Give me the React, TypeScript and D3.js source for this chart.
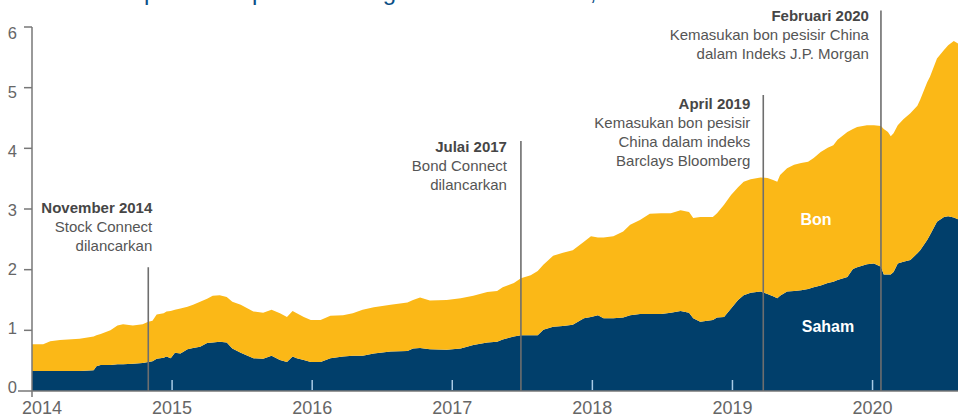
import React from "react";
import * as d3 from "d3";

// Decimal-year dates of the observations
const dates = [
  2014.00, 2014.08, 2014.13, 2014.20, 2014.34, 2014.44, 2014.46, 2014.49, 2014.56, 2014.61,
  2014.65, 2014.72, 2014.79, 2014.83, 2014.86, 2014.89, 2014.94, 2014.96, 2014.99, 2015.02,
  2015.06, 2015.11, 2015.15, 2015.20, 2015.25, 2015.29, 2015.34, 2015.39, 2015.43, 2015.49,
  2015.58, 2015.65, 2015.71, 2015.77, 2015.82, 2015.86, 2015.89, 2015.94, 2015.99, 2016.06,
  2016.13, 2016.22, 2016.29, 2016.36, 2016.44, 2016.56, 2016.68, 2016.72, 2016.77, 2016.84,
  2016.96, 2017.06, 2017.15, 2017.25, 2017.32, 2017.36, 2017.44, 2017.49, 2017.56, 2017.61,
  2017.65, 2017.72, 2017.79, 2017.86, 2017.94, 2017.99, 2018.04, 2018.08, 2018.15, 2018.22,
  2018.27, 2018.34, 2018.41, 2018.49, 2018.56, 2018.63, 2018.69, 2018.72, 2018.77, 2018.86,
  2018.89, 2018.94, 2018.99, 2019.04, 2019.08, 2019.13, 2019.20, 2019.25, 2019.29, 2019.32,
  2019.34, 2019.39, 2019.44, 2019.49, 2019.54, 2019.58, 2019.63, 2019.68, 2019.72, 2019.75,
  2019.82, 2019.86, 2019.89, 2019.96, 2020.01, 2020.06, 2020.08, 2020.11, 2020.13, 2020.15,
  2020.18, 2020.22, 2020.27, 2020.32, 2020.34, 2020.39, 2020.41, 2020.46, 2020.51, 2020.54,
  2020.58, 2020.61,
];

// Saham (equities)
const saham = [
  0.33, 0.33, 0.33, 0.33, 0.33, 0.34, 0.41, 0.43, 0.43, 0.44,
  0.44, 0.45, 0.46, 0.48, 0.49, 0.53, 0.55, 0.57, 0.54, 0.63,
  0.62, 0.69, 0.71, 0.73, 0.79, 0.80, 0.81, 0.80, 0.70, 0.63,
  0.54, 0.53, 0.58, 0.51, 0.48, 0.57, 0.54, 0.51, 0.48, 0.48,
  0.54, 0.57, 0.58, 0.58, 0.62, 0.65, 0.66, 0.70, 0.71, 0.69,
  0.68, 0.70, 0.76, 0.80, 0.81, 0.85, 0.90, 0.92, 0.92, 0.92,
  1.01, 1.06, 1.07, 1.09, 1.20, 1.22, 1.25, 1.20, 1.20, 1.21,
  1.25, 1.27, 1.27, 1.27, 1.29, 1.32, 1.29, 1.20, 1.14, 1.17,
  1.21, 1.22, 1.36, 1.50, 1.58, 1.62, 1.64, 1.60, 1.56, 1.53,
  1.57, 1.64, 1.65, 1.66, 1.68, 1.71, 1.74, 1.78, 1.80, 1.83,
  1.88, 2.01, 2.04, 2.09, 2.10, 2.05, 1.92, 1.92, 1.92, 1.96,
  2.10, 2.13, 2.16, 2.27, 2.32, 2.49, 2.57, 2.79, 2.87, 2.88,
  2.86, 2.83,
];

// Bon (bonds)
const bon = [
  0.44, 0.44, 0.49, 0.51, 0.53, 0.56, 0.51, 0.51, 0.57, 0.64,
  0.66, 0.63, 0.64, 0.66, 0.67, 0.73, 0.73, 0.74, 0.78, 0.71,
  0.74, 0.70, 0.71, 0.74, 0.73, 0.77, 0.77, 0.75, 0.77, 0.79,
  0.77, 0.76, 0.76, 0.77, 0.74, 0.75, 0.74, 0.71, 0.69, 0.69,
  0.70, 0.68, 0.70, 0.76, 0.76, 0.77, 0.80, 0.80, 0.83, 0.80,
  0.82, 0.83, 0.81, 0.83, 0.84, 0.86, 0.88, 0.94, 0.99, 1.06,
  1.07, 1.17, 1.21, 1.23, 1.26, 1.33, 1.28, 1.33, 1.35, 1.42,
  1.49, 1.55, 1.65, 1.66, 1.64, 1.66, 1.66, 1.65, 1.73, 1.70,
  1.72, 1.85, 1.87, 1.86, 1.87, 1.87, 1.88, 1.91, 1.92, 1.92,
  1.99, 2.03, 2.08, 2.10, 2.10, 2.13, 2.20, 2.23, 2.25, 2.31,
  2.39, 2.31, 2.31, 2.29, 2.28, 2.32, 2.40, 2.35, 2.28, 2.29,
  2.28, 2.35, 2.42, 2.43, 2.48, 2.60, 2.61, 2.69, 2.75, 2.82,
  2.91, 2.90,
];

const yTicks = [0, 1, 2, 3, 4, 5, 6];
const yearTicks = [2014, 2015, 2016, 2017, 2018, 2019, 2020];

const eventDates = [2014.83, 2017.49, 2019.22, 2020.06];
const eventTops = [2.04, 4.12, 4.88, 6.27];
const eventTitles = ["November 2014", "Julai 2017", "April 2019", "Februari 2020"];
const eventTexts = [
  ["Stock Connect", "dilancarkan"],
  ["Bond Connect", "dilancarkan"],
  ["Kemasukan bon pesisir", "China dalam indeks", "Barclays Bloomberg"],
  ["Kemasukan bon pesisir China", "dalam Indeks J.P. Morgan"],
];

const titleText = "Jumlah pemilikan pelabur asing dalam aset China, trilion RMB";

// layout (pixel offsets for annotation text relative to its line)
const eventLabelDx = [4, -14, -13, -12];
const eventLabelY = [213, 152, 109, 21];

const W = 963;
const H = 417;
const FONT = "'Liberation Sans', Arial, sans-serif";
const YELLOW = "#fbb817";
const NAVY = "#013f6b";

export default function App() {
  const x = d3.scaleLinear().domain([2014, 2020.61]).range([32, 958]);
  const y = d3.scaleLinear().domain([0, 6]).range([391, 27]);
  const yLabel = d3.scaleLinear().domain([0, 6]).range([387, 32.5]);

  const rows = dates.map((d, i) => ({ date: d, saham: saham[i], bon: bon[i] }));
  const series = d3.stack<any>().keys(["saham", "bon"])(rows);
  const area = d3
    .area<any>()
    .x((d) => x(d.data.date))
    .y0((d) => y(d[0]))
    .y1((d) => y(d[1]))
    .curve(d3.curveLinear);
  const colors = [NAVY, YELLOW];

  return (
    <div style={{ position: "absolute", left: 0, top: 0 }}>
      <svg width={W} height={H} style={{ display: "block", fontFamily: FONT }}>
        <rect width={W} height={H} fill="#fff" />
        <text x={60} y={-0.5} fontSize={24} fill="#0b4f86">{titleText}</text>
        {series.map((s, i) => (
          <path key={i} d={area(s as any) || ""} fill={colors[i]} />
        ))}
        {/* year tick marks inside the area */}
        {yearTicks.slice(1).map((t) => (
          <line key={t} x1={x(t)} x2={x(t)} y1={y(0) - 11} y2={y(0) - 1} stroke="#a9cbe6" strokeWidth={1.5} />
        ))}
        {/* axes */}
        <line x1={x(2014)} x2={x(2014)} y1={y(6)} y2={y(0) + 6} stroke="#777" strokeWidth={1.5} />
        <line x1={18} x2={958} y1={y(0)} y2={y(0)} stroke="#777" strokeWidth={1.5} />
        {yTicks.filter((v) => v > 0).map((v) => (
          <line key={v} x1={24} x2={x(2014)} y1={y(v)} y2={y(v)} stroke="#777" strokeWidth={1.5} />
        ))}
        {yTicks.map((v) => (
          <text key={v} x={17} y={yLabel(v) + 6} fontSize={16.5} fill="#666" textAnchor="end">
            {v}
          </text>
        ))}
        {yearTicks.map((t, i) => (
          <text key={t} x={i === 0 ? x(t) + 10 : x(t)} y={414} fontSize={18} fill="#666" textAnchor="middle">
            {t}
          </text>
        ))}
        {/* event lines */}
        {eventDates.map((d, i) => (
          <line key={i} x1={x(d)} x2={x(d)} y1={y(eventTops[i])} y2={y(0)} stroke="#6e6e6e" strokeWidth={1.6} />
        ))}
        {eventDates.map((d, i) => (
          <text key={"t" + i} x={x(d) + eventLabelDx[i]} y={eventLabelY[i]} fontSize={15} textAnchor="end">
            <tspan x={x(d) + eventLabelDx[i]} fontWeight="bold" fill="#464646">{eventTitles[i]}</tspan>
            {eventTexts[i].map((line, j) => (
              <tspan key={j} x={x(d) + eventLabelDx[i]} dy={19} fill="#555">{line}</tspan>
            ))}
          </text>
        ))}
        {/* series labels */}
        <text x={816} y={225} fontSize={16} fontWeight="bold" fill="#fff" textAnchor="middle">Bon</text>
        <text x={828} y={332} fontSize={16} fontWeight="bold" fill="#fff" textAnchor="middle">Saham</text>
      </svg>
    </div>
  );
}
